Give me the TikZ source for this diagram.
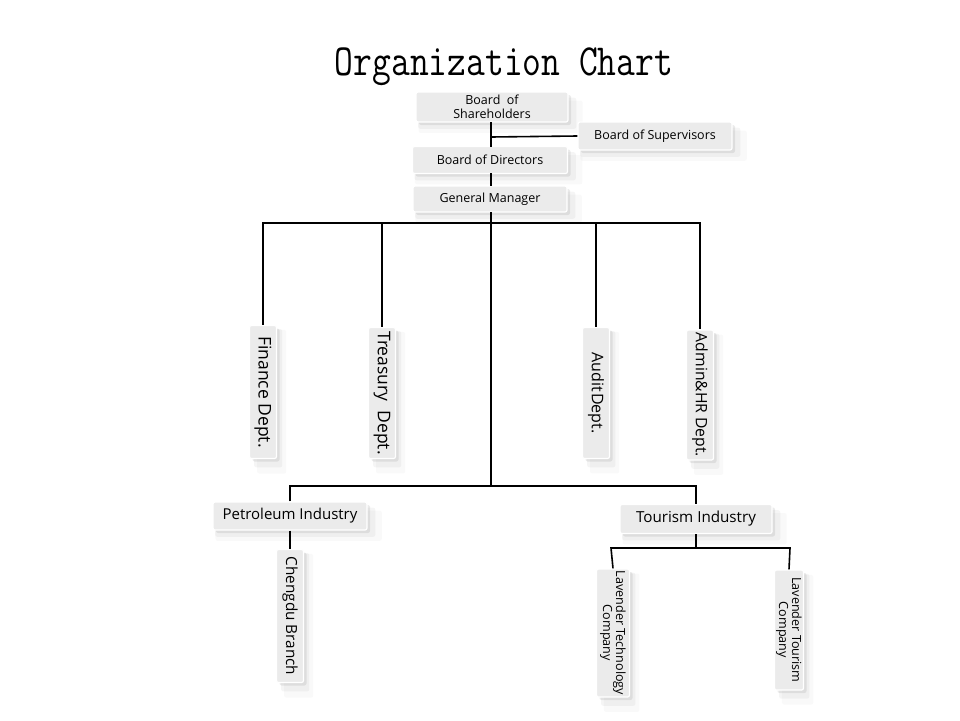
\documentclass[tikz,border=0pt]{standalone}
\usepackage{fontspec}
\setmainfont{Open Sans}
\usetikzlibrary{shadows}
\begin{document}
\begin{tikzpicture}[x=1pt,y=-1pt,
  box/.style={draw=white,line width=1.2pt,fill=black!8,rounded corners=2pt,inner sep=0pt,align=center,
    drop shadow={shadow xshift=8pt,shadow yshift=-9pt,opacity=0.05,shadow scale=1.08},
    drop shadow={shadow xshift=5pt,shadow yshift=-6pt,opacity=0.08,shadow scale=1.04},
    drop shadow={shadow xshift=3pt,shadow yshift=-3pt,opacity=0.16}},
  hbox/.style={box,minimum width=#1},
  vbox/.style={box,rotate=-90,minimum height=27pt,minimum width=#1},
  conn/.style={line width=1.6pt,black}]
\useasboundingbox (0,0) rectangle (960,720);
\node (title) at (504,67) {\scalebox{1}[1.22]{\fontspec{Latin Modern Mono}\fontsize{36.5}{36}\selectfont Organization Chart}};

\node[hbox=152pt,minimum height=30pt,font=\fontsize{12.5}{14}\selectfont] (bs) at (492,107) {Board\ \ of\\Shareholders};
\node[hbox=154pt,minimum height=28pt,font=\fontsize{12.5}{14}\selectfont] (sup) at (655,136) {Board of Supervisors};
\node[hbox=155pt,minimum height=27pt,font=\fontsize{12.5}{14}\selectfont] (bd) at (490,160) {Board of Directors};
\node[hbox=154pt,minimum height=26pt,font=\fontsize{12.5}{14}\selectfont] (gm) at (490,199) {General Manager};

\node[vbox=133pt,font=\fontsize{17.5}{17}\selectfont] (fin) at (263,392) {Finance Dept.};
\node[vbox=131pt,font=\fontsize{17.5}{17}\selectfont] (tre) at (382,393) {Treasury\ \ Dept.};
\node[vbox=131pt,font=\fontsize{16}{16}\selectfont] (aud) at (596,393) {Audit\hspace{1pt}Dept.};
\node[vbox=130pt,font=\fontsize{15.7}{16}\selectfont] (adm) at (700,395) {Admin\&HR Dept.};

\node[hbox=154pt,minimum height=28pt,font=\fontsize{15}{16}\selectfont] (pet) at (290,516) {Petroleum Industry};
\node[hbox=152pt,minimum height=29pt,font=\fontsize{15.2}{16}\selectfont] (tou) at (696,519) {Tourism Industry};
\node[vbox=133pt,font=\fontsize{15.3}{16}\selectfont] (chd) at (290,616) {Chengdu Branch};
\node[vbox=128pt,minimum height=33pt,font=\fontsize{12.6}{13}\selectfont] (ltc) at (613,633) {Lavender Technology\\Company};
\node[vbox=120pt,minimum height=29pt,font=\fontsize{12.6}{13}\selectfont] (lto) at (789,630) {Lavender Tourism\\Company};

\coordinate (j1) at (491,137);
\coordinate (mid) at (491,486);
\coordinate (tj) at (696,548);

\draw[conn] (491,122) -- (491,147);
\draw[conn] (j1) -- (sup.west);
\draw[conn] (491,173) -- (491,186);
\draw[conn] (491,212) -- (mid);
\draw[conn] (fin.west) -- (263,223) -- (700,223) -- (adm.west);
\draw[conn] (tre.west) -- (382,223);
\draw[conn] (aud.west) -- (596,223);
\draw[conn] (pet.north) -- (290,486) -- (696,486) -- (tou.north);
\draw[conn] (pet.south) -- (chd.west);
\draw[conn] (tou.south) -- (tj);
\draw[conn] (ltc.west) -- (611,548) -- (790,548) -- (lto.west);
\end{tikzpicture}
\end{document}
